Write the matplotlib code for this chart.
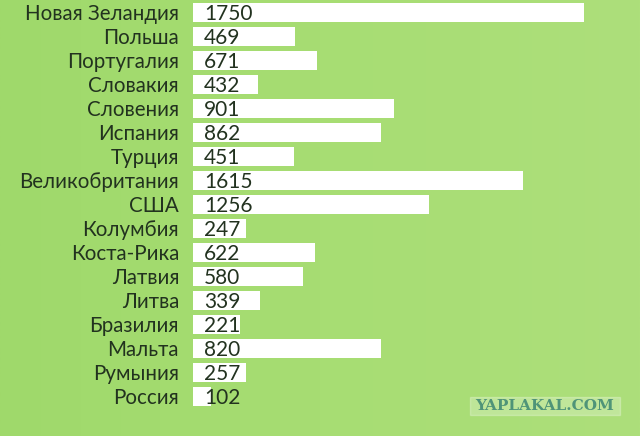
import numpy as np
import matplotlib.pyplot as plt
from matplotlib.colors import LinearSegmentedColormap

countries = ["Новая Зеландия", "Польша", "Португалия", "Словакия", "Словения",
             "Испания", "Турция", "Великобритания", "США", "Колумбия",
             "Коста-Рика", "Латвия", "Литва", "Бразилия", "Мальта",
             "Румыния", "Россия"]
values = [1750, 469, 671, 432, 901, 862, 451, 1615, 1256, 247,
          622, 580, 339, 221, 820, 257, 102]
# bar lengths as drawn in the picture (not strictly proportional to the labels)
bar_len = [1750, 457, 555, 291, 900, 841, 452, 1477, 1056, 237,
           546, 492, 300, 210, 841, 237, 81]

W, H = 640, 436
fig = plt.figure(figsize=(W / 100, H / 100), dpi=100)

# background: soft green gradient
bg = fig.add_axes([0, 0, 1, 1])
grad = np.linspace(0, 1, 256)[None, :]
cmap = LinearSegmentedColormap.from_list("g", ["#9fd96b", "#a7dd73", "#addf7b"])
bg.imshow(grad, aspect="auto", cmap=cmap, extent=[0, 1, 0, 1])
bg.set_axis_off()

left = 193 / W
ax = fig.add_axes([left, 0, 1 - left, 1])
ax.patch.set_alpha(0)
y = np.arange(len(countries))
ax.barh(y, bar_len, height=0.8, color="white", left=0)
ax.set_xlim(0, 2000)
ax.set_ylim(17.65, -0.52)

txt = "#22321f"
for i, v in enumerate(values):
    ax.text(50, i + 0.05, str(v), va="center", ha="left", fontsize=15,
            color=txt, family="Lato")

ax.set_yticks(y)
ax.set_yticklabels(countries, fontsize=14.8, color=txt, family="Lato")
ax.tick_params(axis="y", length=0, pad=10)
ax.set_xticks([])
for s in ax.spines.values():
    s.set_visible(False)

# watermark
fig.patches.append(plt.Rectangle((470 / W, 1 - 415 / H), 150 / W, 18 / H,
                                 transform=fig.transFigure, color="white",
                                 alpha=0.25, zorder=5))
fig.text(545 / W, 1 - 406 / H, "YAPLAKAL.COM", ha="center", va="center",
         fontsize=11, fontweight="bold", family="DejaVu Serif",
         color="#4f9478", zorder=6)

fig.savefig("out.png", dpi=100)
